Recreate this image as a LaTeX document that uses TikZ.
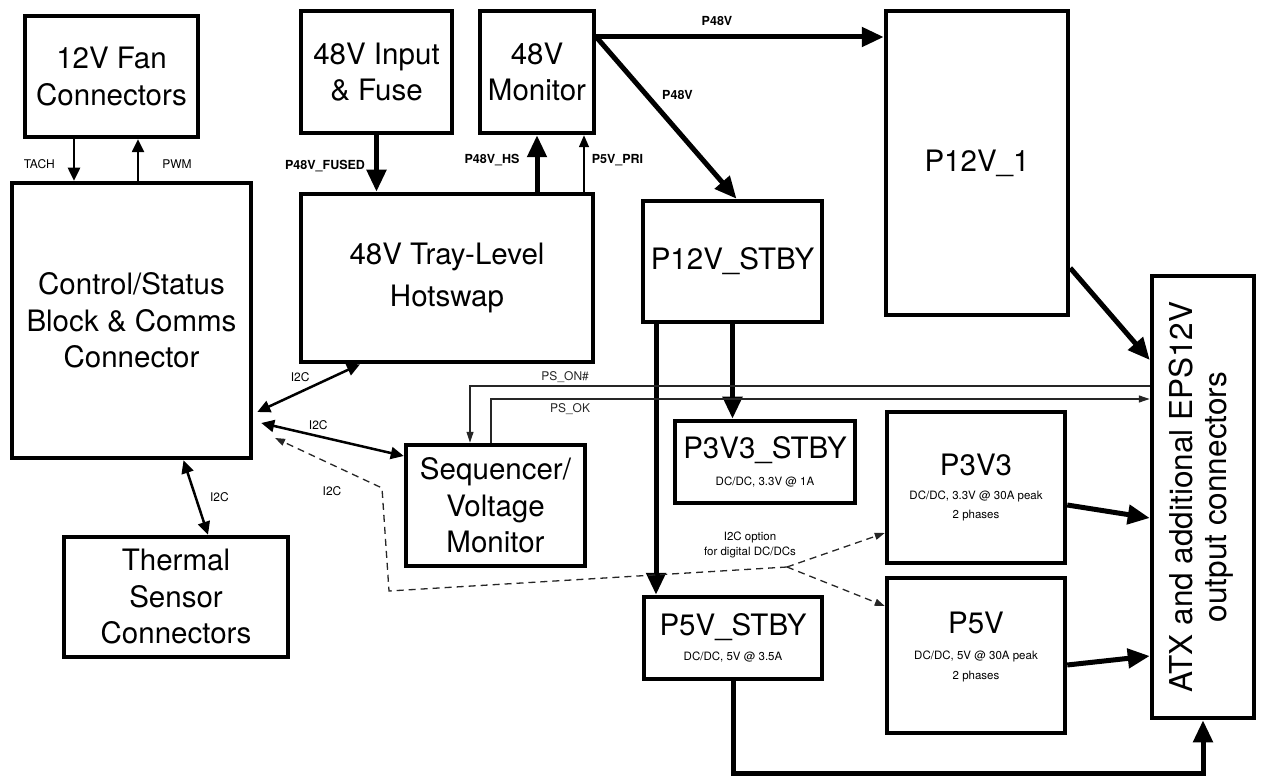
\documentclass[tikz,border=0pt]{standalone}
\usepackage{fontspec}
\setmainfont{TeX Gyre Heros}
\usetikzlibrary{arrows.meta}
\newcommand{\BigTxt}{\fontsize{29.5}{36.5}\selectfont}
\newcommand{\AtxTxt}{\fontsize{31.5}{34}\selectfont}
\newcommand{\SmTxt}{\fontsize{11.5}{14}\selectfont}
\newcommand{\LblTxt}{\fontsize{12}{14}\selectfont}
\newcommand{\BldTxt}{\fontsize{12.5}{14}\selectfont\bfseries}
\begin{document}
\begin{tikzpicture}[x=1pt,y=-1pt,
  blk/.style={draw, line width=4.5pt, inner sep=0pt, align=center, font=\BigTxt},
  lbl/.style={font=\LblTxt, inner sep=1pt},
  blbl/.style={font=\BldTxt, inner sep=1pt},
  heavy/.style={line width=5pt, -{Triangle[length=22pt,width=19pt]}},
  medarr/.style={line width=2.5pt, -{Triangle[length=13pt,width=12pt]}},
  medboth/.style={line width=2.5pt, {Triangle[length=13pt,width=12pt]}-{Triangle[length=13pt,width=12pt]}},
  sig/.style={line width=1.2pt, black!85},
  sigarr/.style={sig, -{Triangle[length=11pt,width=7pt]}},
  dsh/.style={line width=1.3pt, dash pattern=on 7pt off 5pt, black!85},
  dsharr/.style={dsh, -{Triangle[length=10pt,width=7pt]}},
]
\fill[white] (0,0) rectangle (1261,783);
\useasboundingbox (0,0) rectangle (1261,783);

% ---------- blocks ----------
\node[blk, minimum width=173pt, minimum height=121pt] (fan) at (111.5,76.5) {12V Fan\\Connectors};
\node[blk, minimum width=239pt, minimum height=275pt] (ctrl) at (131.5,320.5) {Control/Status\\Block \& Comms\\Connector};
\node[blk, minimum width=224pt, minimum height=120pt] (therm) at (176,597) {Thermal\\Sensor\\Connectors};
\node[blk, minimum width=151pt, minimum height=122pt] (inp) at (376.5,72) {48V Input\\\& Fuse};
\node[blk, minimum width=114pt, minimum height=122pt] (mon) at (537,72) {48V\\Monitor};
\node[blk, minimum width=292pt, minimum height=168pt] (hs) at (447,278) {48V Tray-Level\\[6pt]Hotswap};
\node[blk, minimum width=179pt, minimum height=121pt] (seq) at (495.5,505.5) {Sequencer/\\Voltage\\Monitor};
\node[blk, minimum width=179pt, minimum height=121pt] (p12s) at (732.5,261.5) {P12V\_STBY};
\node[blk, minimum width=182pt, minimum height=304pt] (p12) at (977,163) {P12V\_1};
\node[blk, minimum width=180pt, minimum height=82pt] (p33s) at (765,462) {P3V3\_STBY\\[-10pt]{\SmTxt DC/DC, 3.3V @ 1A}};
\node[blk, minimum width=178pt, minimum height=82pt] (p5s) at (733,638) {P5V\_STBY\\[-12pt]{\SmTxt DC/DC, 5V @ 3.5A}};
\node[blk, minimum width=178pt, minimum height=151pt] (p33) at (976,487.5) {P3V3\\[-13pt]{\SmTxt DC/DC, 3.3V @ 30A peak}\\[-17pt]{\SmTxt 2 phases}};
\node[blk, minimum width=178pt, minimum height=155pt, text depth=20pt] (p5) at (976,655.5) {P5V\\[-10pt]{\SmTxt DC/DC, 5V @ 30A peak}\\[-17pt]{\SmTxt 2 phases}};
\node[blk, minimum width=102pt, minimum height=442pt] (atx) at (1203,497) {};
\node[rotate=90, align=center, font=\AtxTxt, inner sep=0pt] (atxtext) at (1201,497) {ATX and additional EPS12V\\output connectors};

% ---------- helper coordinates ----------
\coordinate (xtach) at (74,0);
\coordinate (xpwm) at (138,0);
\coordinate (xpri) at (584,0);
\coordinate (xstb) at (656,0);
\coordinate (y48) at (0,37);
\coordinate (yon) at (0,386);
\coordinate (yok) at (0,399);
\coordinate (ybot) at (0,773);
\coordinate (jn) at (787,567);
\coordinate (dc1) at (389,591);
\coordinate (dc2) at (382,488);
\coordinate (dtip) at (275,438);

% ---------- fan ----------
\draw[medarr] (xtach |- fan.south) -- node[lbl, left=17pt, yshift=-4pt] {TACH} (xtach |- ctrl.north);
\draw[medarr] (xpwm |- ctrl.north) -- node[lbl, right=22pt, yshift=-4pt] {PWM} (xpwm |- fan.south);

% ---------- 48V path ----------
\draw[heavy] (inp.south) -- node[blbl, left=8pt, yshift=-3pt] {P48V\_FUSED} (inp.south |- hs.north);
\draw[heavy] (mon.south |- hs.north) -- node[blbl, left=14pt, yshift=3pt] {P48V\_HS} (mon.south);
\draw[line width=1.5pt, -{Triangle[length=12pt,width=10pt]}] (xpri |- hs.north) -- node[blbl, right=6pt, yshift=3pt] {P5V\_PRI} (xpri |- mon.south);
\draw[heavy] (mon.east |- y48) -- node[blbl, above=8pt, pos=0.42] {P48V} (p12.west |- y48);
\draw[heavy] (mon.east |- y48) -- node[blbl, right=12pt, pos=0.36] {P48V} ([xshift=4pt]p12s.north);

% ---------- standby rails ----------
\draw[heavy] (p12s.south) -- (p12s.south |- p33s.north);
\draw[heavy] (xstb |- p12s.south) -- (xstb |- p5s.north);

% ---------- outputs to ATX ----------
\draw[heavy] (p12.east |- 0,268) -- (atx.west |- 0,360);
\draw[heavy] (p33.east |- 0,505) -- (atx.west |- 0,518);
\draw[heavy] (p5.east |- 0,665) -- (atx.west |- 0,656);
\draw[heavy] (p5s.south) -- (p5s.south |- ybot) -| (atx.south);

% ---------- PS_ON# / PS_OK ----------
\draw[sigarr] (atx.west |- yon) -- node[lbl, above=2pt, pos=0.86] {PS\_ON\#} ([xshift=-25.5pt]seq.north |- yon) -- ([xshift=-25.5pt]seq.north);
\draw[sigarr] ([xshift=-4.5pt]seq.north) -- ([xshift=-4.5pt]seq.north |- yok) -- node[lbl, below=3pt, pos=0.12] {PS\_OK} (atx.west |- yok);

% ---------- I2C ----------
\draw[medboth] ([xshift=-87pt]hs.south) -- node[lbl, above left=2pt, pos=0.45] {I2C} ([xshift=4pt]ctrl.east |- 0,412);
\draw[medboth] ([xshift=8pt]ctrl.east |- 0,423) -- node[lbl, above=4pt, pos=0.4] {I2C} (seq.west |- 0,456);
\draw[medboth] ([xshift=52pt]ctrl.south) -- node[lbl, right=12pt] {I2C} ([xshift=32pt]therm.north);

% ---------- dashed I2C option ----------
\draw[dsharr] (jn) -- (dc1) -- (dc2) -- (dtip);
\draw[dsharr] (jn) -- (p33.west |- 0,533);
\draw[dsharr] (jn) -- (p5.west |- 0,606);
\node[lbl] (i2cd) at (332,491) {I2C};
\node[lbl, align=center, font=\fontsize{11.5}{15}\selectfont] (opt) at (750,545) {I2C option\\for digital DC/DCs};
\end{tikzpicture}
\end{document}
